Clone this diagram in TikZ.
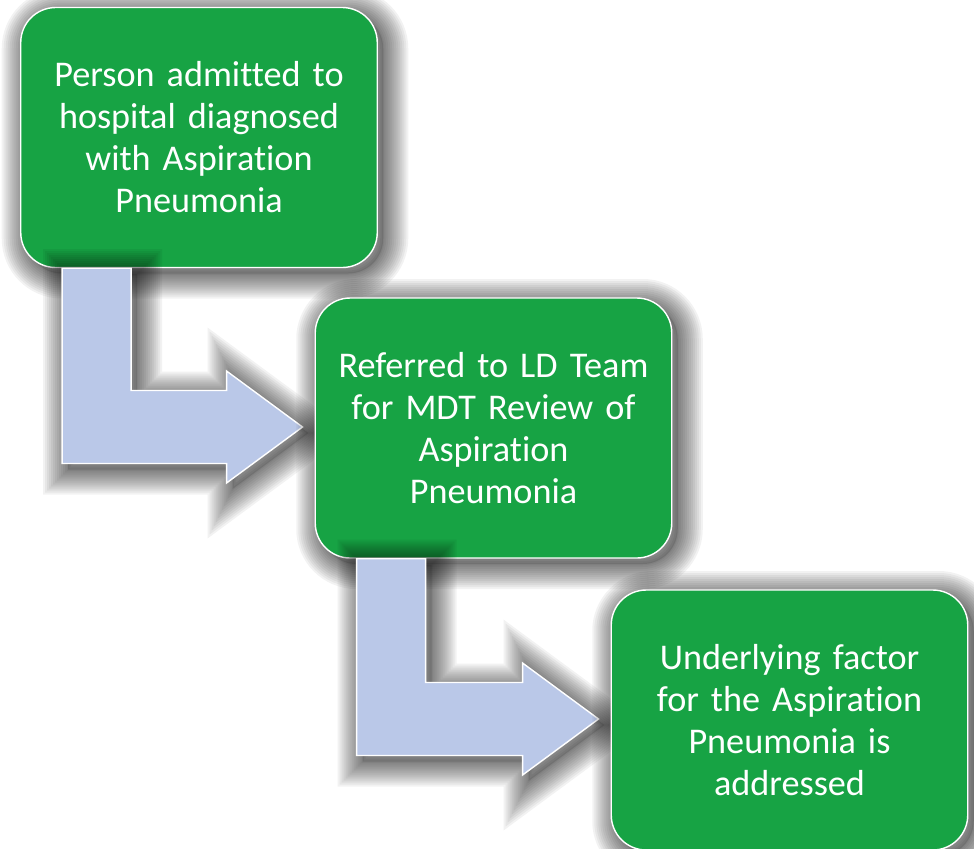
\documentclass[tikz,border=0pt]{standalone}
\usepackage{fontspec}
\setmainfont{Carlito}[Ligatures={NoCommon,NoRare},Contextuals=NoAlternate]
\usetikzlibrary{calc,positioning}

\pgfdeclarelayer{layerA}
\pgfdeclarelayer{layerB}
\pgfdeclarelayer{layerC}
\pgfdeclarelayer{layerD}
\pgfsetlayers{layerA,layerB,layerC,layerD,main}

\tikzset{shadow ring/.style={preaction={draw=black,opacity=0.05,line width=#1,
  transform canvas={shift={(0.12,-0.12)}}}}}

\begin{document}
\begin{tikzpicture}
  % Local definitions
  \def\bentarrow#1#2{%
    \coordinate (tip) at ($(#2.west)+(-0.24,0.02)$);
    \coordinate (sl) at ($(#1.south west)+(0.84,0)$);
    \coordinate (sr) at ($(#1.south west)+(2.22,0)$);
    \path[style=flow arrow] (sl) -- (sr) -- ($(sr |- tip)+(0,0.73)$)
      -- ($(tip)+(-1.52,0.73)$) -- ($(tip)+(-1.52,1.12)$) -- (tip)
      -- ($(tip)+(-1.52,-1.12)$) -- ($(tip)+(-1.52,-0.73)$)
      -- ($(sl |- tip)+(0,-0.73)$) -- cycle;}

  % Colors
  \definecolor{stepgreen}{RGB}{23,163,68}
  \definecolor{arrowblue}{RGB}{186,200,232}

  % Styles
  \tikzstyle{soft shadow}=[shadow ring=1.0cm,shadow ring=0.92cm,shadow ring=0.84cm,
    shadow ring=0.76cm,shadow ring=0.68cm,shadow ring=0.6cm,shadow ring=0.52cm,
    shadow ring=0.44cm,shadow ring=0.36cm,shadow ring=0.28cm,shadow ring=0.2cm,
    shadow ring=0.12cm,shadow ring=0.05cm,
    preaction={fill=black,opacity=0.12,transform canvas={shift={(0.12,-0.12)}}}]
  \tikzstyle{stage}=[soft shadow,rectangle,rounded corners=0.7cm,fill=stepgreen,
    draw=white,line width=0.8pt,minimum width=7.13cm,minimum height=5.2cm,
    text width=6.8cm,align=center,text=white,font=\fontsize{20.6}{23.9}\selectfont]
  \tikzstyle{flow arrow}=[soft shadow,fill=arrowblue,draw=white,line width=0.8pt]

  % The graphic
  \useasboundingbox (0,0) rectangle (19.48,-16.96);

  \begin{pgfonlayer}{layerA}
    \node[stage] (admit) at (3.98,-2.75)
      {Person admitted to\\hospital diagnosed\\with Aspiration\\Pneumonia};
  \end{pgfonlayer}
  \begin{pgfonlayer}{layerC}
    \node[stage] (refer) at (9.87,-8.56)
      {Referred to LD Team\\for MDT Review of\\Aspiration\\Pneumonia};
  \end{pgfonlayer}
  \node[stage] (factor) at (15.79,-14.40)
    {Underlying factor\\for the Aspiration\\Pneumonia is\\addressed};

  % Arrows
  \begin{pgfonlayer}{layerB}
    \bentarrow{admit}{refer}
  \end{pgfonlayer}
  \begin{pgfonlayer}{layerD}
    \bentarrow{refer}{factor}
  \end{pgfonlayer}

\end{tikzpicture}
\end{document}
